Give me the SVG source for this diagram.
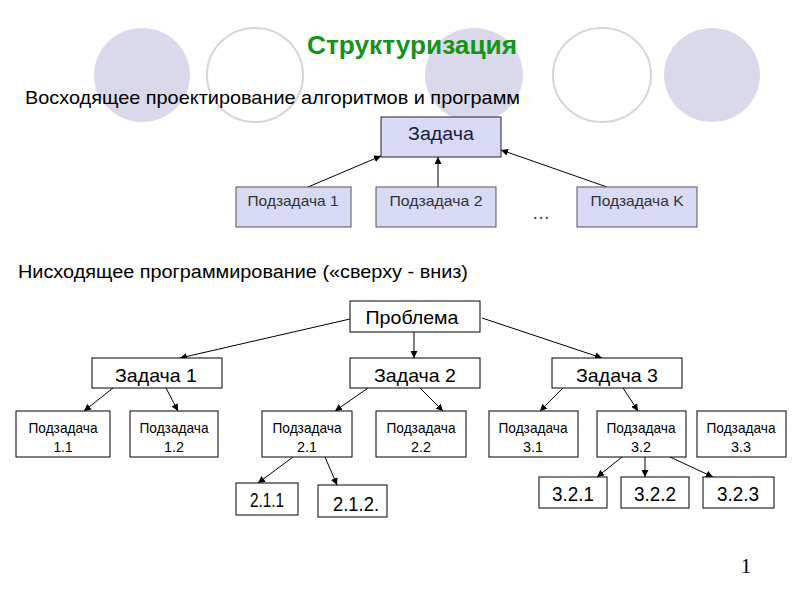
<svg xmlns="http://www.w3.org/2000/svg" width="800" height="600" viewBox="0 0 800 600">
<style>
.bg{fill:#d9d9eb}
.ring{fill:#fff;stroke:#d6d6d6;stroke-width:2}
.t{font-family:"Liberation Sans",Arial,sans-serif;fill:#000}
.lav{fill:#d8daf6;stroke:#222;stroke-width:1}
.lav2{fill:#d8daf6;stroke:#555;stroke-width:1}
.wb{fill:#fff;stroke:#000;stroke-width:1}
.c line{stroke:#000;stroke-width:1;marker-end:url(#ah)}
</style>
<defs>
<marker id="ah" viewBox="0 0 10 10" refX="10" refY="5" markerWidth="7" markerHeight="7" markerUnits="userSpaceOnUse" orient="auto">
<path d="M0,0 L10,5 L0,10 z" fill="#000"/>
</marker>
</defs>
<rect width="800" height="600" fill="#fff"/>
<g id="background">
<ellipse class="bg" cx="142" cy="75" rx="48" ry="47"/>
<ellipse class="ring" cx="255" cy="75" rx="48" ry="47"/>
<ellipse class="bg" cx="474" cy="75" rx="49" ry="47"/>
<ellipse class="ring" cx="602" cy="75" rx="49" ry="47"/>
<ellipse class="bg" cx="712" cy="75" rx="48" ry="47"/>
</g>
<text class="t" x="307" y="54" font-size="25" font-weight="bold" style="fill:#17931a" textLength="210" lengthAdjust="spacingAndGlyphs">Структуризация</text>
<text class="t" x="25" y="104" font-size="19" textLength="495" lengthAdjust="spacingAndGlyphs">Восходящее проектирование алгоритмов и программ</text>
<text class="t" x="18" y="278" font-size="18" textLength="450" lengthAdjust="spacingAndGlyphs">Нисходящее программирование («сверху - вниз)</text>

<g class="c" id="connectors">
<line x1="308" y1="187" x2="381" y2="156"/>
<line x1="438" y1="187" x2="438" y2="157"/>
<line x1="607" y1="187" x2="501" y2="150"/>

<line x1="350" y1="319" x2="180" y2="358"/>
<line x1="414" y1="331" x2="414" y2="358"/>
<line x1="482" y1="318" x2="602" y2="358"/>

<line x1="113" y1="388" x2="84" y2="411"/>
<line x1="166" y1="388" x2="178" y2="411"/>
<line x1="368" y1="388" x2="335" y2="411"/>
<line x1="420" y1="388" x2="443" y2="411"/>
<line x1="563" y1="388" x2="540" y2="411"/>
<line x1="623" y1="388" x2="638" y2="411"/>

<line x1="293" y1="457" x2="258" y2="483"/>
<line x1="325" y1="457" x2="337" y2="485"/>
<line x1="622" y1="457" x2="597" y2="477"/>
<line x1="645" y1="457" x2="645" y2="477"/>
<line x1="670" y1="457" x2="713" y2="477"/>
</g>

<g id="zadacha">
<rect class="lav" x="381" y="117" width="120" height="40"/>
<text class="t" x="441" y="140" font-size="18" text-anchor="middle" style="fill:#1c1c3c" textLength="66" lengthAdjust="spacingAndGlyphs">Задача</text>
</g>
<g id="podzadacha1">
<rect class="lav2" x="236" y="187" width="115" height="40"/>
<text class="t" x="293" y="206" font-size="15" text-anchor="middle" style="fill:#333" textLength="91" lengthAdjust="spacingAndGlyphs">Подзадача 1</text>
</g>
<g id="podzadacha2">
<rect class="lav2" x="376" y="187" width="120" height="40"/>
<text class="t" x="436" y="206" font-size="15" text-anchor="middle" style="fill:#333" textLength="93" lengthAdjust="spacingAndGlyphs">Подзадача 2</text>
</g>
<text class="t" x="541" y="219" font-size="18" text-anchor="middle" style="fill:#333">…</text>
<g id="podzadachaK">
<rect class="lav2" x="577" y="187" width="120" height="40"/>
<text class="t" x="637" y="206" font-size="15" text-anchor="middle" style="fill:#333" textLength="93" lengthAdjust="spacingAndGlyphs">Подзадача K</text>
</g>

<g id="problema">
<rect class="wb" x="350" y="301" width="130" height="31"/>
<text class="t" x="412" y="324" font-size="19" text-anchor="middle" textLength="93" lengthAdjust="spacingAndGlyphs">Проблема</text>
</g>
<g id="z1">
<rect class="wb" x="92" y="358" width="130" height="30"/>
<text class="t" x="156" y="382" font-size="19" text-anchor="middle" textLength="82" lengthAdjust="spacingAndGlyphs">Задача 1</text>
</g>
<g id="z2">
<rect class="wb" x="350" y="358" width="130" height="30"/>
<text class="t" x="415" y="382" font-size="19" text-anchor="middle" textLength="82" lengthAdjust="spacingAndGlyphs">Задача 2</text>
</g>
<g id="z3">
<rect class="wb" x="552" y="358" width="130" height="30"/>
<text class="t" x="617" y="382" font-size="19" text-anchor="middle" textLength="82" lengthAdjust="spacingAndGlyphs">Задача 3</text>
</g>

<g id="p11">
<rect class="wb" x="16" y="411" width="94" height="46"/>
<text class="t" x="63" y="433" font-size="15" text-anchor="middle" textLength="69" lengthAdjust="spacingAndGlyphs">Подзадача</text>
<text class="t" x="63" y="452" font-size="15" text-anchor="middle" textLength="19" lengthAdjust="spacingAndGlyphs">1.1</text>
</g>
<g id="p12">
<rect class="wb" x="130" y="411" width="88" height="46"/>
<text class="t" x="174" y="433" font-size="15" text-anchor="middle" textLength="69" lengthAdjust="spacingAndGlyphs">Подзадача</text>
<text class="t" x="174" y="452" font-size="15" text-anchor="middle" textLength="20" lengthAdjust="spacingAndGlyphs">1.2</text>
</g>
<g id="p21">
<rect class="wb" x="262" y="411" width="90" height="46"/>
<text class="t" x="307" y="433" font-size="15" text-anchor="middle" textLength="69" lengthAdjust="spacingAndGlyphs">Подзадача</text>
<text class="t" x="307" y="452" font-size="15" text-anchor="middle" textLength="20" lengthAdjust="spacingAndGlyphs">2.1</text>
</g>
<g id="p22">
<rect class="wb" x="376" y="411" width="90" height="46"/>
<text class="t" x="421" y="433" font-size="15" text-anchor="middle" textLength="69" lengthAdjust="spacingAndGlyphs">Подзадача</text>
<text class="t" x="421" y="452" font-size="15" text-anchor="middle" textLength="20" lengthAdjust="spacingAndGlyphs">2.2</text>
</g>
<g id="p31">
<rect class="wb" x="489" y="411" width="89" height="46"/>
<text class="t" x="533" y="433" font-size="15" text-anchor="middle" textLength="69" lengthAdjust="spacingAndGlyphs">Подзадача</text>
<text class="t" x="533" y="452" font-size="15" text-anchor="middle" textLength="20" lengthAdjust="spacingAndGlyphs">3.1</text>
</g>
<g id="p32">
<rect class="wb" x="597" y="411" width="89" height="46"/>
<text class="t" x="641" y="433" font-size="15" text-anchor="middle" textLength="69" lengthAdjust="spacingAndGlyphs">Подзадача</text>
<text class="t" x="641" y="452" font-size="15" text-anchor="middle" textLength="20" lengthAdjust="spacingAndGlyphs">3.2</text>
</g>
<g id="p33">
<rect class="wb" x="697" y="411" width="89" height="46"/>
<text class="t" x="741" y="433" font-size="15" text-anchor="middle" textLength="69" lengthAdjust="spacingAndGlyphs">Подзадача</text>
<text class="t" x="741" y="452" font-size="15" text-anchor="middle" textLength="20" lengthAdjust="spacingAndGlyphs">3.3</text>
</g>

<g id="p211">
<rect class="wb" x="236" y="483" width="62" height="32"/>
<text class="t" x="267" y="507" font-size="20" text-anchor="middle" textLength="34" lengthAdjust="spacingAndGlyphs">2.1.1</text>
</g>
<g id="p212">
<rect class="wb" x="318" y="485" width="69" height="32"/>
<text class="t" x="356" y="511" font-size="20" text-anchor="middle" textLength="46" lengthAdjust="spacingAndGlyphs">2.1.2.</text>
</g>
<g id="p321">
<rect class="wb" x="539" y="477" width="68" height="31"/>
<text class="t" x="573" y="501" font-size="20" text-anchor="middle" textLength="42" lengthAdjust="spacingAndGlyphs">3.2.1</text>
</g>
<g id="p322">
<rect class="wb" x="621" y="477" width="68" height="31"/>
<text class="t" x="655" y="501" font-size="20" text-anchor="middle" textLength="42" lengthAdjust="spacingAndGlyphs">3.2.2</text>
</g>
<g id="p323">
<rect class="wb" x="703" y="477" width="71" height="31"/>
<text class="t" x="738" y="501" font-size="20" text-anchor="middle" textLength="42" lengthAdjust="spacingAndGlyphs">3.2.3</text>
</g>

<text x="746" y="573" font-size="21" text-anchor="middle" font-family="Liberation Serif,serif" fill="#000">1</text>
</svg>
